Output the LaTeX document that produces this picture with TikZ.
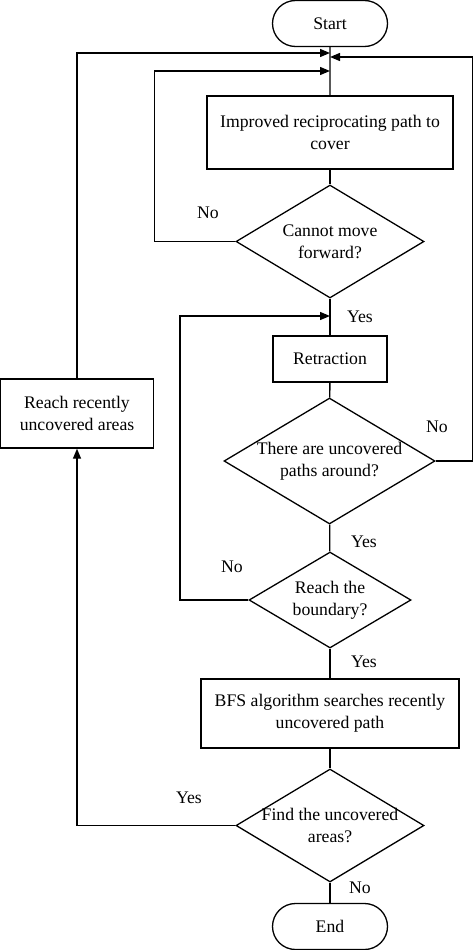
\documentclass[tikz,border=0pt]{standalone}
\usepackage{fontspec}
\setmainfont{Liberation Serif}
\usetikzlibrary{shapes.geometric,shapes.misc,arrows.meta}
\tikzset{
  proc/.style={draw, rectangle, align=center, inner sep=0pt},
  term/.style={draw, rounded rectangle, inner sep=0pt, minimum width=115pt, minimum height=46pt},
  decide/.style={draw, diamond, inner sep=0pt},
  ask/.style={label={[align=center]center:{#1}}},
  flow/.style={-{Triangle[length=10pt,width=8pt]}},
}
\begin{document}
\begin{tikzpicture}[x=1pt, y=-1pt, line width=1.3pt, font=\fontsize{17.7}{21.7}\selectfont]
  \useasboundingbox (0,0) rectangle (474,950);
  \draw
    (330,23.5) node[term] (start){Start}
    (330,132.5) node[proc, minimum width=246pt, minimum height=73pt] (cover){Improved reciprocating path to\\cover}
    (330,241.5) node[decide, minimum width=188pt, minimum height=113pt, ask={Cannot move\\forward?}] (stuck){}
    (330,359) node[proc, minimum width=114pt, minimum height=46pt] (retract){Retraction}
    (329.5,461) node[decide, minimum width=211pt, minimum height=126pt, ask={There are uncovered\\paths around?}] (around){}
    (330,600) node[decide, minimum width=162pt, minimum height=96pt, ask={Reach the\\boundary?}] (bound){}
    (330,713.5) node[proc, minimum width=258pt, minimum height=69pt] (bfs){BFS algorithm searches recently\\uncovered path}
    (330,825.5) node[decide, minimum width=188pt, minimum height=113pt, ask={Find the uncovered\\areas?}] (found){}
    (330,926.5) node[term] (end){End}
    (77,413.5) node[proc, minimum width=153pt, minimum height=69pt] (reach){Reach recently\\uncovered areas};
  \coordinate (j1) at (330,53);
  \coordinate (j2) at (330,57);
  \coordinate (j3) at (330,71);
  \coordinate (j4) at (330,316);
  \node (no1) at (208,213) {No};
  \node (yes1) at (360,317) {Yes};
  \node (no2) at (437,427) {No};
  \node (yes2) at (364,542) {Yes};
  \node (no3) at (232,567) {No};
  \node (yes3) at (364,662) {Yes};
  \node (yes4) at (189,798) {Yes};
  \node (no4) at (360,888) {No};
  \begin{scope}
    \draw (start) to (cover);
    \draw (cover) to (stuck);
    \draw (stuck) to (retract);
    \draw (retract) to (around);
    \draw (around) to (bound);
    \draw (bound) to (bfs);
    \draw (bfs) to (found);
    \draw (found) to (end);
    \draw[flow] (stuck.west) -- ++(-81,0) |- (j3);
    \draw[flow] (around.east) -- (472.5,461) |- (j2);
    \draw[flow] (bound.west) -- (180,600) |- (j4);
    \draw[flow] (found.west) -| (reach.south);
    \draw[flow] (reach.north) |- (j1);
  \end{scope}
\end{tikzpicture}
\end{document}
